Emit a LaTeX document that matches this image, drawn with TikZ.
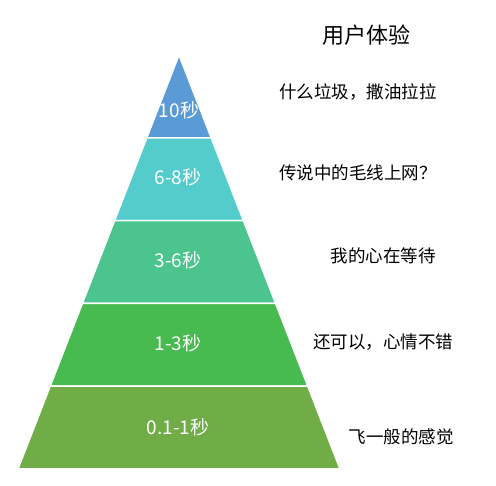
\documentclass[tikz,border=0pt]{standalone}
\usepackage{fontspec}
\setmainfont{Noto Sans CJK SC}
\definecolor{tierA}{HTML}{5B9BD5}
\definecolor{tierB}{HTML}{55CCCC}
\definecolor{tierC}{HTML}{4CC48E}
\definecolor{tierD}{HTML}{47BA50}
\definecolor{tierE}{HTML}{70AD47}
\begin{document}
\begin{tikzpicture}[x=1pt,y=-1pt,
 layer/.style={draw=white,line width=1.5pt},
 tier/.style={text=white,font=\fontsize{19}{22}\selectfont},
 remark/.style={font=\fontsize{17.5}{20}\selectfont}]
\useasboundingbox (0,0) rectangle (496,486);
% Pyramid, apex (179,55), base 18..340 at y=469, five equal bands.
\filldraw[layer,fill=tierA] (179,55)--(211.2,137.8)--(146.8,137.8)--cycle;
\filldraw[layer,fill=tierB] (146.8,137.8)--(211.2,137.8)--(243.4,220.6)--(114.6,220.6)--cycle;
\filldraw[layer,fill=tierC] (114.6,220.6)--(243.4,220.6)--(275.6,303.4)--(82.4,303.4)--cycle;
\filldraw[layer,fill=tierD] (82.4,303.4)--(275.6,303.4)--(307.8,386.2)--(50.2,386.2)--cycle;
\filldraw[layer,fill=tierE] (50.2,386.2)--(307.8,386.2)--(340,469)--(18,469)--cycle;
\node[tier] (t10) at (179,110) {10秒};
\node[tier] (t68) at (178,177) {6-8秒};
\node[tier] (t36) at (178,260) {3-6秒};
\node[tier] (t13) at (178,343) {1-3秒};
\node[tier] (t01) at (178,427) {0.1-1秒};
% Comments on the right.
\node[font=\fontsize{22}{26}\selectfont] (title) at (366,35) {用户体验};
\node[remark] (r10) at (358,92) {什么垃圾，撒油拉拉};
\node[remark] (r68) at (358,173) {传说中的毛线上网？};
\node[remark] (r36) at (383,256) {我的心在等待};
\node[remark] (r13) at (383,342) {还可以，心情不错};
\node[remark] (r01) at (401,437) {飞一般的感觉};
\end{tikzpicture}
\end{document}
